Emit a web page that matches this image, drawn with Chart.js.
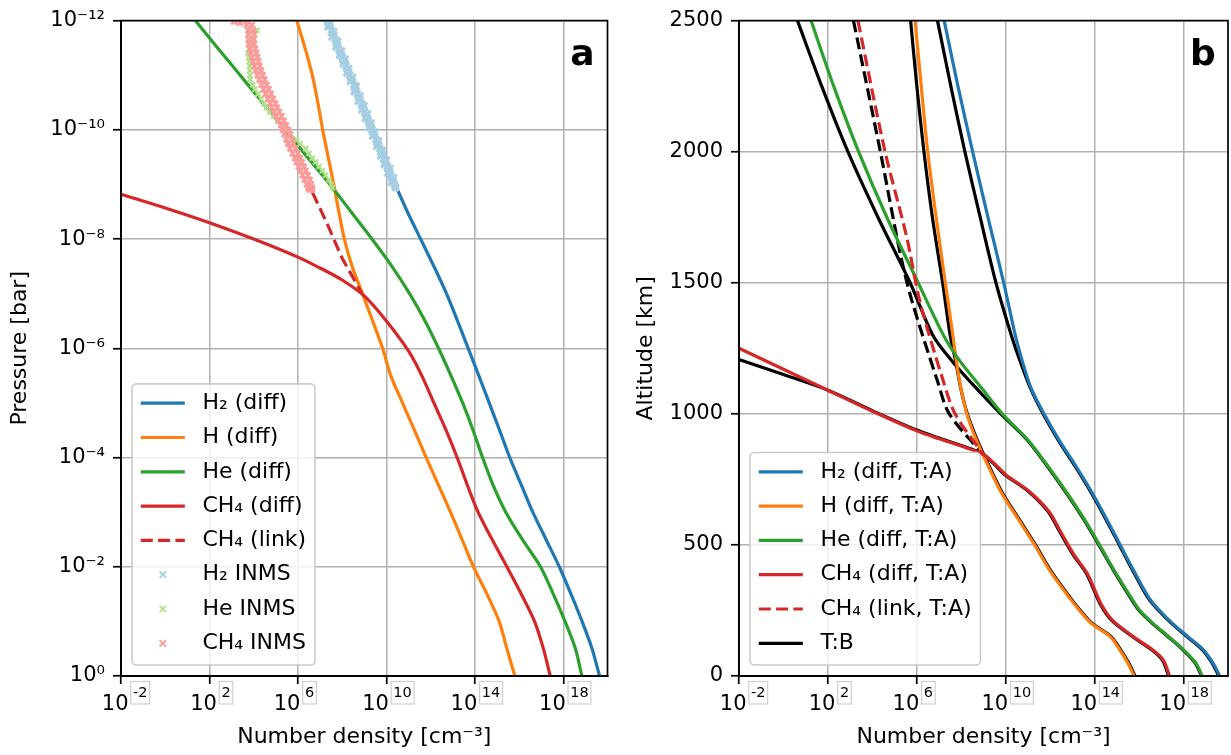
<!DOCTYPE html>
<html>
<head>
<meta charset="utf-8">
<script src="https://cdn.jsdelivr.net/npm/chart.js@4.4.1/dist/chart.umd.min.js"></script>
<style>
html,body{margin:0;padding:0;background:#fff;}
#wrap{position:relative;width:1231px;height:755px;overflow:hidden;background:#fff;}
#ca{position:absolute;left:0;top:0;}
#cb{position:absolute;left:615px;top:0;}
</style>
</head>
<body>
<div id="wrap">
<canvas id="ca" width="615" height="755"></canvas>
<canvas id="cb" width="616" height="755"></canvas>
</div>
<script>
// ---------------- axis ticks ----------------
const densityTicks = [1e-2, 1e2, 1e6, 1e10, 1e14, 1e18];
const densityTickBase = '10';
const densityTickExponents = ['-2', '2', '6', '10', '14', '18'];
const pressureTicks = [1e-12, 1e-10, 1e-8, 1e-6, 1e-4, 1e-2, 1];
const pressureTickLabels = ['10\u207B\u00B9\u00B2', '10\u207B\u00B9\u2070', '10\u207B\u2078', '10\u207B\u2076', '10\u207B\u2074', '10\u207B\u00B2', '10\u2070'];
const altitudeTicks = [0, 500, 1000, 1500, 2000, 2500];
const altitudeTickLabels = ['0', '500', '1000', '1500', '2000', '2500'];

// ---------------- panel a : density vs pressure ----------------
const pressureGridA = [1e-12, 3.16e-12, 1e-11, 3.16e-11, 1e-10, 3.16e-10, 1e-9, 3.16e-9, 1e-8, 3.16e-8, 1e-7, 3.16e-7, 1e-6, 3.16e-6, 1e-5, 3.16e-5, 1e-4, 3.16e-4, 1e-3, 3.16e-3, 1e-2, 3.16e-2, 0.1, 0.316, 1];
const h2DiffA = [2.14e7, 6.92e7, 2.24e8, 7.08e8, 2.34e9, 7.94e9, 2.51e10, 8.91e10, 3.55e11, 1.41e12, 5.25e12, 1.66e13, 5.01e13, 1.51e14, 4.47e14, 1.32e15, 3.80e15, 1.26e16, 4.17e16, 1.66e17, 6.61e17, 2.24e18, 7.08e18, 2.0e19, 4.37e19];
const hDiffA = [8.91e5, 2.09e6, 4.47e6, 7.94e6, 1.32e7, 2.34e7, 4.17e7, 7.08e7, 1.26e8, 2.82e8, 8.32e8, 2.40e9, 6.76e9, 1.58e10, 5.37e10, 1.86e11, 6.31e11, 2.24e12, 7.94e12, 2.63e13, 8.71e13, 3.55e14, 1.26e15, 2.82e15, 6.46e15];
const heDiffA = [2.29e1, 2.34e2, 2.45e3, 2.51e4, 2.63e5, 2.69e6, 2.82e7, 2.51e8, 2.24e9, 1.78e10, 1.12e11, 5.62e11, 2.29e12, 8.32e12, 2.82e13, 8.32e13, 2.24e14, 6.61e14, 2.51e15, 1.41e16, 9.33e16, 3.55e17, 1.20e18, 3.55e18, 6.92e18];
const ch4DiffDensityA = [1e-2, 1, 1e2, 1e4, 1e6, 1e7, 1e8, 1e9, 1e10, 1e11, 3.98e11, 1.41e12, 5.01e12, 1.58e13, 1.41e14, 2.82e15, 1.26e16, 5.01e16, 1.26e17, 2.57e17];
const ch4DiffPressureA = [1.51e-9, 2.69e-9, 5.01e-9, 1e-8, 2.14e-8, 3.39e-8, 5.62e-8, 1.10e-7, 3.16e-7, 1.12e-6, 3.16e-6, 1e-5, 3.16e-5, 1e-4, 1e-3, 1e-2, 3.16e-2, 0.1, 0.316, 1];
const ch4LinkDensityA = [4.57e6, 2.0e7, 1e8, 7.94e8];
const ch4LinkPressureA = [1.41e-9, 5.01e-9, 2.24e-8, 1e-7];

// INMS measurements
const h2InmsPressure = [1.0e-12, 1.2e-12, 1.5e-12, 1.8e-12, 2.2e-12, 2.7e-12, 3.3e-12, 3.9e-12, 4.7e-12, 5.6e-12, 6.8e-12, 8.2e-12, 1.0e-11, 1.2e-11, 1.5e-11, 1.8e-11, 2.2e-11, 2.7e-11, 3.3e-11, 3.9e-11, 4.7e-11, 5.6e-11, 6.8e-11, 8.2e-11, 1.0e-10, 1.2e-10, 1.5e-10, 1.8e-10, 2.2e-10, 2.7e-10, 3.3e-10, 3.9e-10, 4.7e-10, 5.6e-10, 6.8e-10, 8.2e-10, 1.0e-9, 1.15e-9];
const h2InmsDensity = [2.14e7, 2.57e7, 3.24e7, 3.89e7, 4.79e7, 5.89e7, 7.08e7, 8.51e7, 1.02e8, 1.23e8, 1.48e8, 1.78e8, 2.19e8, 2.63e8, 3.31e8, 3.98e8, 4.90e8, 6.03e8, 7.41e8, 8.71e8, 1.05e9, 1.26e9, 1.51e9, 1.86e9, 2.24e9, 2.69e9, 3.39e9, 4.07e9, 5.01e9, 6.17e9, 7.59e9, 8.91e9, 1.10e10, 1.32e10, 1.58e10, 1.91e10, 2.29e10, 2.63e10];
const h2InmsExtraPressure = [1.1e-12, 1.3e-12, 1.6e-12, 2.0e-12, 2.4e-12, 3.0e-12, 3.6e-12, 4.3e-12, 5.1e-12, 6.2e-12, 7.5e-12, 9.1e-12, 1.1e-11, 1.3e-11, 1.6e-11, 2.0e-11, 2.4e-11, 3.0e-11, 3.6e-11, 4.3e-11, 5.1e-11, 6.2e-11, 7.5e-11, 9.1e-11, 1.1e-10, 1.3e-10, 1.6e-10, 2.0e-10, 2.4e-10, 3.0e-10, 3.6e-10, 4.3e-10, 5.1e-10, 6.2e-10, 7.5e-10, 9.1e-10, 1.1e-9];
const h2InmsExtraDensity = [2.88e7, 2.27e7, 4.27e7, 3.47e7, 6.31e7, 5.25e7, 9.55e7, 7.59e7, 1.38e8, 1.10e8, 2.0e8, 1.62e8, 2.95e8, 2.34e8, 4.37e8, 3.55e8, 6.46e8, 5.37e8, 9.77e8, 7.76e8, 1.41e9, 1.12e9, 2.04e9, 1.66e9, 3.02e9, 2.40e9, 4.47e9, 3.63e9, 6.61e9, 5.50e9, 1.0e10, 7.94e9, 1.45e10, 1.15e10, 2.09e10, 1.70e10, 2.51e10];
const heInmsPressure = [1.5e-12, 1.8e-12, 2.2e-12, 2.7e-12, 3.3e-12, 3.9e-12, 4.7e-12, 5.6e-12, 6.8e-12, 8.2e-12, 1.0e-11, 1.2e-11, 1.5e-11, 1.8e-11, 2.2e-11, 2.7e-11, 3.3e-11, 3.9e-11, 4.7e-11, 5.6e-11, 6.8e-11, 8.2e-11, 1.0e-10, 1.2e-10, 1.5e-10, 1.8e-10, 2.2e-10, 2.7e-10, 3.3e-10, 3.9e-10, 4.7e-10, 5.6e-10, 6.8e-10, 8.2e-10, 1.0e-9, 1.15e-9];
const heInmsDensity = [1.41e4, 1.12e4, 8.91e3, 7.59e3, 6.31e3, 5.62e3, 6.03e3, 6.31e3, 6.61e3, 6.76e3, 6.76e3, 7.08e3, 8.91e3, 1.12e4, 1.58e4, 2.14e4, 2.88e4, 3.80e4, 5.25e4, 7.94e4, 1.20e5, 2.00e5, 3.16e5, 4.79e5, 8.51e5, 1.26e6, 2.24e6, 3.16e6, 4.47e6, 6.31e6, 8.91e6, 1.26e7, 1.78e7, 2.51e7, 3.16e7, 3.72e7];
const ch4InmsPressure = [1.0e-12, 1.2e-12, 1.5e-12, 1.8e-12, 2.2e-12, 2.7e-12, 3.3e-12, 3.9e-12, 4.7e-12, 5.6e-12, 6.8e-12, 8.2e-12, 1.0e-11, 1.2e-11, 1.5e-11, 1.8e-11, 2.2e-11, 2.7e-11, 3.3e-11, 3.9e-11, 4.7e-11, 5.6e-11, 6.8e-11, 8.2e-11, 1.0e-10, 1.2e-10, 1.5e-10, 1.8e-10, 2.2e-10, 2.7e-10, 3.3e-10, 3.9e-10, 4.7e-10, 5.6e-10, 6.8e-10, 8.2e-10, 1.0e-9, 1.15e-9, 1.25e-9];
const ch4InmsDensityLow = [3.02e3, 4.79e3, 5.62e3, 5.75e3, 5.89e3, 6.03e3, 6.76e3, 7.59e3, 8.51e3, 9.55e3, 1.07e4, 1.26e4, 1.48e4, 1.78e4, 2.24e4, 2.75e4, 3.47e4, 4.37e4, 5.50e4, 6.61e4, 8.32e4, 1.05e5, 1.35e5, 1.70e5, 2.09e5, 2.45e5, 3.02e5, 3.55e5, 4.47e5, 5.75e5, 7.24e5, 8.71e5, 1.07e6, 1.32e6, 1.62e6, 2.0e6, 2.51e6, 2.88e6, 3.31e6];
const ch4InmsDensityHigh = [5.25e3, 8.32e3, 9.77e3, 1.0e4, 1.02e4, 1.05e4, 1.17e4, 1.32e4, 1.48e4, 1.66e4, 1.86e4, 2.19e4, 2.57e4, 3.09e4, 3.89e4, 4.79e4, 6.03e4, 7.59e4, 9.55e4, 1.15e5, 1.45e5, 1.82e5, 2.34e5, 2.95e5, 3.63e5, 4.27e5, 5.25e5, 6.17e5, 7.76e5, 1.0e6, 1.26e6, 1.51e6, 1.86e6, 2.29e6, 2.82e6, 3.47e6, 3.98e6, 4.37e6, 4.37e6];
const ch4InmsOutlierPressure = [1.0e-12, 1.05e-12, 1.1e-12];
const ch4InmsOutlierDensity = [1.78e3, 1.26e3, 2.40e3];

// ---------------- panel b : density vs altitude ----------------
const altitudeGridB = [2500, 2250, 2000, 1750, 1500, 1300, 1200, 1100, 1000, 900, 800, 700, 600, 500, 400, 300, 250, 200, 150, 100, 50, 0];
const h2DiffB = [1.70e7, 7.08e7, 3.24e8, 1.58e9, 8.13e9, 2.69e10, 5.62e10, 1.35e11, 5.25e11, 2.51e12, 1.45e13, 7.59e13, 3.39e14, 1.41e15, 5.89e15, 2.69e16, 8.32e16, 3.24e17, 1.58e18, 7.76e18, 2.09e19, 4.27e19];
const hDiffB = [8.32e5, 1.58e6, 3.09e6, 7.41e6, 1.91e7, 4.17e7, 6.03e7, 9.55e7, 1.78e8, 4.79e8, 1.66e9, 6.31e9, 3.55e10, 2.0e11, 1.0e12, 7.08e12, 2.09e13, 7.24e13, 5.01e14, 1.35e15, 3.09e15, 6.03e15];
const heDiffB = [1.74e1, 1.82e2, 2.40e3, 4.47e4, 1.15e6, 1.58e7, 8.91e7, 7.94e8, 7.08e9, 1.0e11, 7.94e11, 5.50e12, 3.31e13, 1.66e14, 7.94e14, 4.27e15, 1.07e16, 4.37e16, 2.14e17, 1.0e18, 3.55e18, 6.92e18];
const ch4DiffDensityB = [1e-2, 1, 1e2, 1e4, 1e6, 1e7, 1e8, 9.55e8, 3.16e9, 1e10, 1.12e11, 8.51e11, 2.82e12, 1.15e13, 4.79e13, 1.95e14, 6.61e14, 6.03e15, 4.47e16, 1.26e17, 2.34e17];
const ch4DiffAltitudeB = [1250, 1170, 1090, 1010, 935, 905, 877, 846, 810, 768, 705, 629, 553, 464, 389, 275, 211, 148, 97, 59, 0];
const ch4LinkDensityB = [2.24e3, 3.72e4, 3.39e5, 1.38e6, 1.55e7, 5.25e7, 9.55e8];
const ch4LinkAltitudeB = [2500, 2000, 1680, 1428, 1125, 1000, 846];
// temperature profile B
const h2TB = [8.51e6, 3.39e7, 1.45e8, 7.08e8, 3.63e9, 1.78e10, 4.47e10, 1.26e11, 4.79e11, 2.29e12, 1.32e13, 6.92e13, 3.09e14, 1.29e15, 5.37e15, 2.45e16, 7.59e16, 2.95e17, 1.45e18, 7.08e18, 1.91e19, 3.89e19];
const hTB = [5.25e5, 1.0e6, 2.09e6, 5.01e6, 1.45e7, 3.16e7, 5.62e7, 9.33e7, 1.86e8, 5.25e8, 1.82e9, 6.92e9, 3.89e10, 2.19e11, 1.10e12, 7.76e12, 2.29e13, 7.94e13, 5.50e14, 1.48e15, 3.39e15, 6.61e15];
const heTB = [4.27, 5.25e1, 7.94e2, 1.78e4, 5.01e5, 5.25e6, 3.98e7, 4.47e8, 6.03e9, 9.33e10, 7.41e11, 5.13e12, 3.09e13, 1.55e14, 7.41e14, 3.98e15, 1.0e16, 4.07e16, 2.0e17, 9.33e17, 3.31e18, 6.46e18];
const ch4TBDensity = [1e-2, 1, 1e2, 1e4, 1e6, 1e7, 1e8, 8.91e8, 2.88e9, 9.12e9, 1.02e11, 7.76e11, 2.57e12, 1.05e13, 4.37e13, 1.78e14, 6.03e14, 5.50e15, 4.07e16, 1.15e17, 2.14e17];
const ch4TBAltitude = [1207, 1150, 1090, 1012, 938, 908, 879, 848, 810, 768, 705, 629, 553, 464, 389, 275, 211, 148, 97, 59, 0];
const ch4LinkTBDensity = [1.41e3, 2.29e4, 1.86e5, 6.17e5, 8.51e6, 2.88e7, 8.91e8];
const ch4LinkTBAltitude = [2500, 2000, 1605, 1428, 1125, 1000, 848];

// ---------------- styling helpers ----------------
const FAMILY = "'DejaVu Sans', 'Liberation Sans', sans-serif";
Chart.defaults.font.family = FAMILY;
Chart.defaults.color = '#000';
const COL = {blue:'#1f77b4', orange:'#ff7f0e', green:'#2ca02c', red:'#d62728', lblue:'#a6cee3', lgreen:'#b2df8a', pink:'#fb9a99', black:'#000000'};
const LW = 3.2;
const DASH = [12, 5.3];

function xy(xs, ys) { return xs.map((x, i) => ({x: x, y: ys[i]})); }
function lineSet(label, data, color, order, extra) {
  return Object.assign({
    label: label, data: data, showLine: true, borderColor: color, backgroundColor: color,
    borderWidth: LW, pointRadius: 0, pointHoverRadius: 0, pointHitRadius: 0,
    tension: 0.3, fill: false, inLegend: true, order: order, clip: 1,
    borderJoinStyle: 'round', borderCapStyle: 'butt'
  }, extra || {});
}
function markSet(label, data, color, r, bw, order) {
  return {
    label: label, data: data, showLine: false, pointStyle: 'crossRot', pointRadius: r,
    pointHoverRadius: r, pointBorderWidth: bw, pointBorderColor: color, pointBackgroundColor: color,
    borderColor: color, backgroundColor: color, isMarker: true, inLegend: true, order: order, clip: 0
  };
}

function drawLegend(chart) {
  const ctx = chart.ctx, a = chart.chartArea;
  const items = chart.data.datasets.filter(d => d.inLegend);
  const fs = 22, rowH = 34.3, padTop = 19.3, padBot = 21.7;
  ctx.save();
  ctx.font = fs + 'px ' + FAMILY;
  let maxW = 0;
  items.forEach(it => { maxW = Math.max(maxW, ctx.measureText(it.label).width); });
  const left = a.left + 11, bottom = a.bottom - 11;
  const h = padTop + (items.length - 1) * rowH + padBot;
  const top = bottom - h;
  const handleX = left + 8.8, handleW = 44, textX = handleX + handleW + 17.6;
  const w = textX - left + maxW + 8.8;
  ctx.beginPath();
  ctx.roundRect(left, top, w, h, 4.4);
  ctx.fillStyle = 'rgba(255,255,255,0.8)';
  ctx.fill();
  ctx.strokeStyle = '#cccccc';
  ctx.lineWidth = 1.6;
  ctx.stroke();
  items.forEach((it, i) => {
    const y = top + padTop + i * rowH;
    ctx.save();
    if (it.isMarker) {
      const cx = handleX + handleW / 2, s = 3.2;
      ctx.strokeStyle = it.borderColor; ctx.lineWidth = 1.8; ctx.setLineDash([]);
      ctx.beginPath();
      ctx.moveTo(cx - s, y - s); ctx.lineTo(cx + s, y + s);
      ctx.moveTo(cx + s, y - s); ctx.lineTo(cx - s, y + s);
      ctx.stroke();
    } else {
      ctx.strokeStyle = it.borderColor; ctx.lineWidth = LW; ctx.lineCap = 'butt';
      ctx.setLineDash(it.borderDash || []);
      ctx.beginPath(); ctx.moveTo(handleX, y); ctx.lineTo(handleX + handleW, y); ctx.stroke();
    }
    ctx.restore();
    ctx.fillStyle = '#000'; ctx.textBaseline = 'middle'; ctx.textAlign = 'left';
    ctx.fillText(it.label, textX, y);
  });
  ctx.restore();
}

// x tick labels: "10" with a raised exponent in a thin grey box, as in the reference
function drawDensityTickLabels(chart) {
  const ctx = chart.ctx, sx = chart.scales.x;
  ctx.save();
  ctx.fillStyle = '#000'; ctx.textBaseline = 'alphabetic'; ctx.textAlign = 'left';
  densityTicks.forEach((v, i) => {
    const px = sx.getPixelForValue(v);
    const exp = densityTickExponents[i];
    ctx.font = '21px ' + FAMILY;
    const wb = ctx.measureText(densityTickBase).width;
    ctx.font = '14.5px ' + FAMILY;
    const we = ctx.measureText(exp).width;
    const shift = v < 1e4 ? 7.5 : 2.5;
    const left = px + shift - wb;
    const baseY = sx.top + 34;
    ctx.font = '21px ' + FAMILY;
    ctx.fillText(densityTickBase, left, baseY);
    const ex = left + wb + 4.5;
    ctx.font = '14.5px ' + FAMILY;
    ctx.fillText(exp, ex, baseY - 12.7);
    ctx.strokeStyle = '#cfcfcf'; ctx.lineWidth = 1.2;
    ctx.strokeRect(ex - 2.2, sx.top + 5.5, we + 4.4, 22.5);
  });
  ctx.restore();
}

const decoPlugin = {
  id: 'deco',
  afterDatasetsDraw(chart, args, opts) {
    const ctx = chart.ctx, a = chart.chartArea;
    ctx.save();
    ctx.strokeStyle = '#000'; ctx.lineWidth = 1.7;
    ctx.strokeRect(a.left, a.top, a.right - a.left, a.bottom - a.top);
    ctx.restore();
    drawLegend(chart);
    ctx.save();
    ctx.font = 'bold 36px ' + FAMILY;
    ctx.fillStyle = '#000'; ctx.textAlign = 'center'; ctx.textBaseline = 'alphabetic';
    ctx.fillText(opts.letter, opts.letterX, opts.letterY);
    ctx.restore();
  },
  afterDraw(chart) { drawDensityTickLabels(chart); }
};

function densityAxis() {
  return {
    type: 'logarithmic', position: 'bottom', min: 1e-2, max: 1e20,
    afterBuildTicks: s => { s.ticks = densityTicks.map(v => ({value: v})); },
    afterFit: s => { s.height = 79; },
    ticks: { display: false, autoSkip: false },
    grid: { color: '#b0b0b0', lineWidth: 1.5, tickColor: '#000', tickLength: 8, tickWidth: 1.7 },
    border: { color: '#000', width: 1.7 },
    title: { display: true, text: 'Number density [cm\u207B\u00B3]', color: '#000', font: {size: 22}, padding: {top: 0, bottom: 5} }
  };
}

function baseOptions(yAxis, deco, right) {
  return {
    responsive: false, animation: false, devicePixelRatio: 1, events: [],
    layout: { padding: { left: 0, top: 17, right: right, bottom: 0 } },
    scales: { x: densityAxis(), y: yAxis },
    plugins: { legend: { display: false }, tooltip: { enabled: false }, deco: deco }
  };
}

// ---------------- chart a ----------------
const dsA = [
  lineSet('H\u2082 (diff)', xy(h2DiffA, pressureGridA), COL.blue, 20),
  lineSet('H (diff)', xy(hDiffA, pressureGridA), COL.orange, 19),
  lineSet('He (diff)', xy(heDiffA, pressureGridA), COL.green, 18),
  lineSet('CH\u2084 (diff)', xy(ch4DiffDensityA, ch4DiffPressureA), COL.red, 17),
  lineSet('CH\u2084 (link)', xy(ch4LinkDensityA, ch4LinkPressureA), COL.red, 16, {borderDash: DASH, tension: 0}),
  markSet('H\u2082 INMS', xy(h2InmsDensity, h2InmsPressure).concat(xy(h2InmsExtraDensity, h2InmsExtraPressure)), COL.lblue, 4.5, 3, 15),
  markSet('He INMS', xy(heInmsDensity, heInmsPressure), COL.lgreen, 3.5, 2.2, 14),
  markSet('CH\u2084 INMS', xy(ch4InmsDensityLow, ch4InmsPressure).concat(xy(ch4InmsDensityHigh, ch4InmsPressure), xy(ch4InmsOutlierDensity, ch4InmsOutlierPressure)), COL.pink, 3.8, 2.4, 13)
];
new Chart(document.getElementById('ca'), {
  type: 'scatter',
  data: { datasets: dsA },
  options: baseOptions({
    type: 'logarithmic', reverse: true, min: 1e-12, max: 1,
    afterBuildTicks: s => { s.ticks = pressureTicks.map(v => ({value: v})); },
    afterFit: s => { s.width = 121; },
    ticks: { callback: (v, i) => pressureTickLabels[i], autoSkip: false, padding: 8, color: '#000', font: {size: 21} },
    grid: { color: '#b0b0b0', lineWidth: 1.5, tickColor: '#000', tickLength: 8, tickWidth: 1.7 },
    border: { color: '#000', width: 1.7 },
    title: { display: true, text: 'Pressure [bar]', color: '#000', font: {size: 22}, padding: {top: 7, bottom: 0} }
  }, {letter: 'a', letterX: 582.5, letterY: 65}, 5),
  plugins: [decoPlugin]
});

// ---------------- chart b ----------------
const dsB = [
  lineSet('H\u2082 (diff, T:A)', xy(h2DiffB, altitudeGridB), COL.blue, 10),
  lineSet('H (diff, T:A)', xy(hDiffB, altitudeGridB), COL.orange, 9),
  lineSet('He (diff, T:A)', xy(heDiffB, altitudeGridB), COL.green, 8),
  lineSet('CH\u2084 (diff, T:A)', xy(ch4DiffDensityB, ch4DiffAltitudeB), COL.red, 7),
  lineSet('CH\u2084 (link, T:A)', xy(ch4LinkDensityB, ch4LinkAltitudeB), COL.red, 6, {borderDash: DASH}),
  lineSet('T:B', xy(h2TB, altitudeGridB), COL.black, 20),
  lineSet('H T:B', xy(hTB, altitudeGridB), COL.black, 20, {inLegend: false}),
  lineSet('He T:B', xy(heTB, altitudeGridB), COL.black, 20, {inLegend: false}),
  lineSet('CH\u2084 T:B', xy(ch4TBDensity, ch4TBAltitude), COL.black, 20, {inLegend: false}),
  lineSet('CH\u2084 link T:B', xy(ch4LinkTBDensity, ch4LinkTBAltitude), COL.black, 20, {inLegend: false, borderDash: DASH})
];
new Chart(document.getElementById('cb'), {
  type: 'scatter',
  data: { datasets: dsB },
  options: baseOptions({
    type: 'linear', min: 0, max: 2500,
    afterBuildTicks: s => { s.ticks = altitudeTicks.map(v => ({value: v})); },
    afterFit: s => { s.width = 124; },
    ticks: { callback: (v, i) => altitudeTickLabels[i], autoSkip: false, padding: 8, color: '#000', font: {size: 21} },
    grid: { color: '#b0b0b0', lineWidth: 1.5, tickColor: '#000', tickLength: 8, tickWidth: 1.7 },
    border: { color: '#000', width: 1.7 },
    title: { display: true, text: 'Altitude [km]', color: '#000', font: {size: 22}, padding: {top: 18, bottom: 0} }
  }, {letter: 'b', letterX: 588, letterY: 65}, 3),
  plugins: [decoPlugin]
});
</script>
</body>
</html>
